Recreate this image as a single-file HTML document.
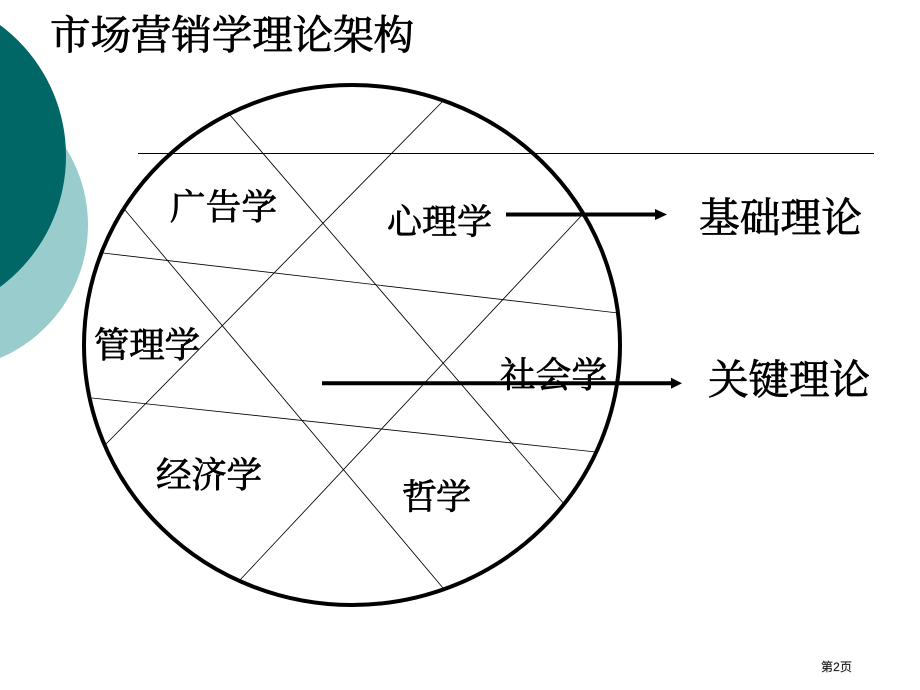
<!DOCTYPE html>
<html lang="zh">
<head>
<meta charset="utf-8">
<title>市场营销学理论架构</title>
<style>
html,body{margin:0;padding:0;background:#fff;width:920px;height:690px;overflow:hidden}
svg{display:block}
text{font-family:"Liberation Serif","Noto Serif CJK SC",serif;fill:#000;stroke:#000;stroke-width:.8px}
</style>
</head>
<body>
<svg width="920" height="690" viewBox="0 0 920 690" xmlns="http://www.w3.org/2000/svg">
<circle cx="-56.5" cy="225" r="144.5" fill="#99cccc"/>
<circle cx="-97" cy="156" r="163" fill="#006666"/>
<ellipse cx="352" cy="345" rx="268" ry="260" fill="#fff" stroke="#000" stroke-width="4"/>
<g stroke="#000" stroke-width="0.85" fill="none">
<line x1="138" y1="153.500" x2="874" y2="153.500" stroke-width="1"/>
<line x1="230" y1="115" x2="565" y2="505"/>
<line x1="125" y1="210" x2="443" y2="588"/>
<line x1="443" y1="101" x2="106" y2="444"/>
<line x1="583" y1="214" x2="240" y2="580"/>
<line x1="103" y1="253" x2="618" y2="313"/>
<line x1="92" y1="398" x2="596" y2="452"/>
</g>
<text x="50" y="49" font-size="40.5" textLength="364">市场营销学理论架构</text>
<text x="170" y="219" font-size="35.5" textLength="107">广告学</text>
<text x="387" y="234" font-size="35" textLength="105">心理学</text>
<text x="94" y="357" font-size="35.5" textLength="106">管理学</text>
<text x="500" y="387" font-size="35.5" textLength="107">社会学</text>
<text x="156" y="487" font-size="35.5" textLength="106">经济学</text>
<text x="402" y="509" font-size="35" textLength="69">哲学</text>
<text x="699" y="232" font-size="40.7" textLength="163">基础理论</text>
<text x="708" y="394" font-size="40.7" textLength="162">关键理论</text>
<g stroke="#000" stroke-width="4" fill="none">
<line x1="506" y1="214.500" x2="656" y2="214.500"/>
<line x1="322" y1="383.300" x2="673" y2="383.300"/>
</g>
<polygon points="655,209 667,214.500 655,220" fill="#000"/>
<polygon points="671,377.800 682,383.300 671,388.800" fill="#000"/>
<text x="821" y="671" font-size="12" textLength="31" style="font-family:'Liberation Sans','Noto Sans CJK SC',sans-serif;stroke:#222;stroke-width:.2px;fill:#222">第2页</text>
</svg>
</body>
</html>
